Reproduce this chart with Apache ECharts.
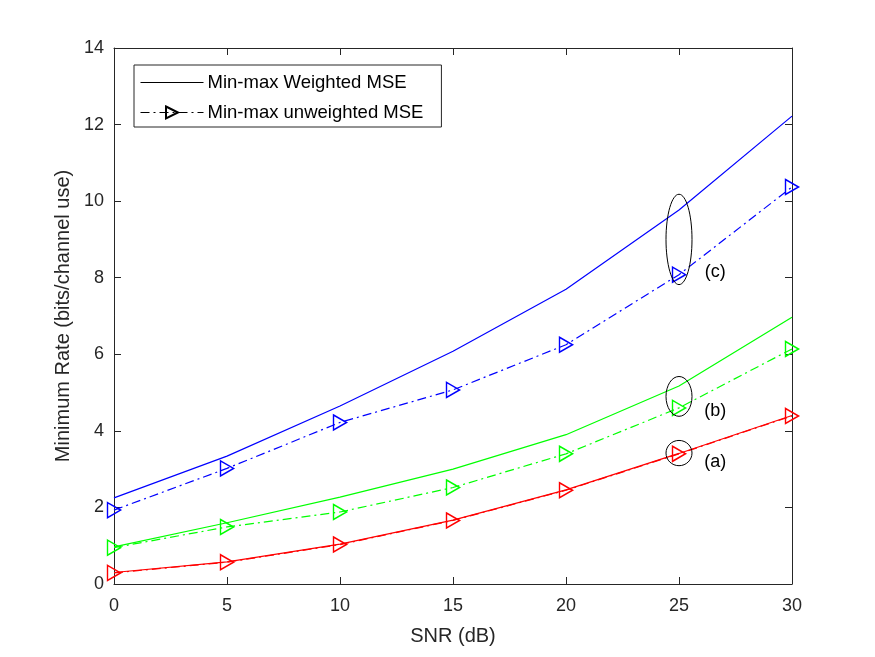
<!DOCTYPE html>
<html>
<head>
<meta charset="utf-8">
<script src="https://cdn.jsdelivr.net/npm/echarts@6/dist/echarts.min.js"></script>
<style>
  html, body { margin: 0; padding: 0; background: #fff; }
  #chart { width: 875px; height: 657px; }
</style>
</head>
<body>
<div id="chart"></div>
<script>
const snr = [0, 5, 10, 15, 20, 25, 30]

// (c) blue, (b) green, (a) red
const weightedC = [2.25, 3.34, 4.65, 6.08, 7.70, 9.77, 12.22]
const unweightedC = [1.93, 3.02, 4.22, 5.07, 6.25, 8.08, 10.37]
const weightedB = [0.97, 1.60, 2.27, 3.00, 3.90, 5.17, 6.97]
const unweightedB = [0.95, 1.49, 1.88, 2.52, 3.40, 4.60, 6.14]
const weightedA = [0.30, 0.58, 1.04, 1.67, 2.46, 3.41, 4.40]
const unweightedA = [0.29, 0.57, 1.03, 1.66, 2.45, 3.40, 4.39]

// annotation ellipses: [label, x, yCenter, yHalfHeight]
const notes = [
  ['(c)', 25, 9.0, 1.18],
  ['(b)', 25, 4.9, 0.52],
  ['(a)', 25, 3.42, 0.33]
]

const font = 'Liberation Sans, Arial, Helvetica, sans-serif'
const dashDot = [9, 4, 2, 4]
const triangle = 'path://M0,0L12,6L0,12Z'

const pairs = (xs, ys) => xs.map((x, i) => [x, ys[i]])

const solid = (name, color, data) => ({
  name: name,
  type: 'line',
  data: pairs(snr, data),
  showSymbol: false,
  symbol: 'none',
  clip: false,
  z: 3,
  lineStyle: { color: color, width: 1.2 },
  itemStyle: { color: color }
})

const dashed = (name, color, data) => ({
  name: name,
  type: 'line',
  data: pairs(snr, data),
  symbol: triangle,
  symbolSize: [13, 15],
  clip: false,
  z: 4,
  lineStyle: { color: color, width: 1.2, type: dashDot },
  itemStyle: { color: 'rgba(255,255,255,0)', borderColor: color, borderWidth: 1.5 }
})

const chart = echarts.init(document.getElementById('chart'))

const axisCommon = {
  axisLine: { show: true, onZero: false, lineStyle: { color: '#262626', width: 1 } },
  axisTick: { show: true, inside: true, length: 7, lineStyle: { color: '#262626' } },
  splitLine: { show: false }
}

const option = {
  animation: false,
  backgroundColor: '#fff',
  grid: { left: 114, right: 83, top: 48, bottom: 73 },
  legend: {
    data: [
      { name: 'Min-max Weighted MSE', itemStyle: { opacity: 0 } },
      { name: 'Min-max unweighted MSE' }
    ],
    orient: 'vertical',
    left: 134,
    top: 65,
    itemWidth: 63,
    itemHeight: 15,
    itemGap: 11,
    padding: [8, 18, 5, 6],
    borderColor: '#262626',
    borderWidth: 1,
    backgroundColor: '#fff',
    lineStyle: { width: 1 },
    textStyle: { fontFamily: font, fontSize: 18.5, color: '#000', padding: [0, 0, 0, -1] }
  },
  xAxis: [
    Object.assign({
      type: 'value', min: 0, max: 30, interval: 5,
      name: 'SNR (dB)', nameLocation: 'middle', nameGap: 42,
      nameTextStyle: { fontFamily: font, fontSize: 20, color: '#262626' },
      axisLabel: { fontFamily: font, fontSize: 18, color: '#262626', margin: 13 }
    }, axisCommon),
    Object.assign({
      type: 'value', min: 0, max: 30, interval: 5, position: 'top',
      axisLabel: { show: false }
    }, axisCommon)
  ],
  yAxis: [
    Object.assign({
      type: 'value', min: 0, max: 14, interval: 2,
      name: 'Minimum Rate (bits/channel use)', nameLocation: 'middle', nameGap: 40,
      nameTextStyle: { fontFamily: font, fontSize: 20, color: '#262626' },
      axisLabel: { fontFamily: font, fontSize: 18, color: '#262626', margin: 10 }
    }, axisCommon),
    Object.assign({
      type: 'value', min: 0, max: 14, interval: 2, position: 'right',
      axisLabel: { show: false }
    }, axisCommon)
  ],
  series: [
    solid('c-w', '#0000ff', weightedC),
    dashed('c-u', '#0000ff', unweightedC),
    solid('b-w', '#00ff00', weightedB),
    dashed('b-u', '#00ff00', unweightedB),
    solid('a-w', '#ff0000', weightedA),
    dashed('a-u', '#ff0000', unweightedA),
    // legend-only entries in black
    {
      name: 'Min-max Weighted MSE', type: 'line', data: [], symbol: 'none',
      lineStyle: { color: '#000', width: 1 }, itemStyle: { color: '#000' }
    },
    {
      name: 'Min-max unweighted MSE', type: 'line', data: [], symbol: triangle,
      symbolSize: [13, 15],
      lineStyle: { color: '#000', width: 1, type: dashDot },
      itemStyle: { color: 'rgba(255,255,255,0)', borderColor: '#000', borderWidth: 1.5 }
    }
  ]
}

chart.setOption(option)

// ellipses and labels placed through the axes
const graphics = []
notes.forEach(([label, x, yc, dy]) => {
  const c = chart.convertToPixel({ gridIndex: 0 }, [x, yc])
  const top = chart.convertToPixel({ gridIndex: 0 }, [x, yc + dy])
  const ry = c[1] - top[1]
  graphics.push({
    type: 'ellipse',
    shape: { cx: c[0], cy: c[1], rx: 13, ry: ry },
    style: { fill: 'none', stroke: '#000', lineWidth: 1 },
    z: 10
  })
  const lab = chart.convertToPixel({ gridIndex: 0 }, [x + 1.6, yc - dy * 0.72])
  graphics.push({
    type: 'text',
    x: lab[0], y: lab[1],
    style: {
      text: label, fill: '#000', font: '18px ' + font,
      textAlign: 'center', textVerticalAlign: 'middle'
    },
    z: 10
  })
})
chart.setOption({ graphic: graphics })
</script>
</body>
</html>
